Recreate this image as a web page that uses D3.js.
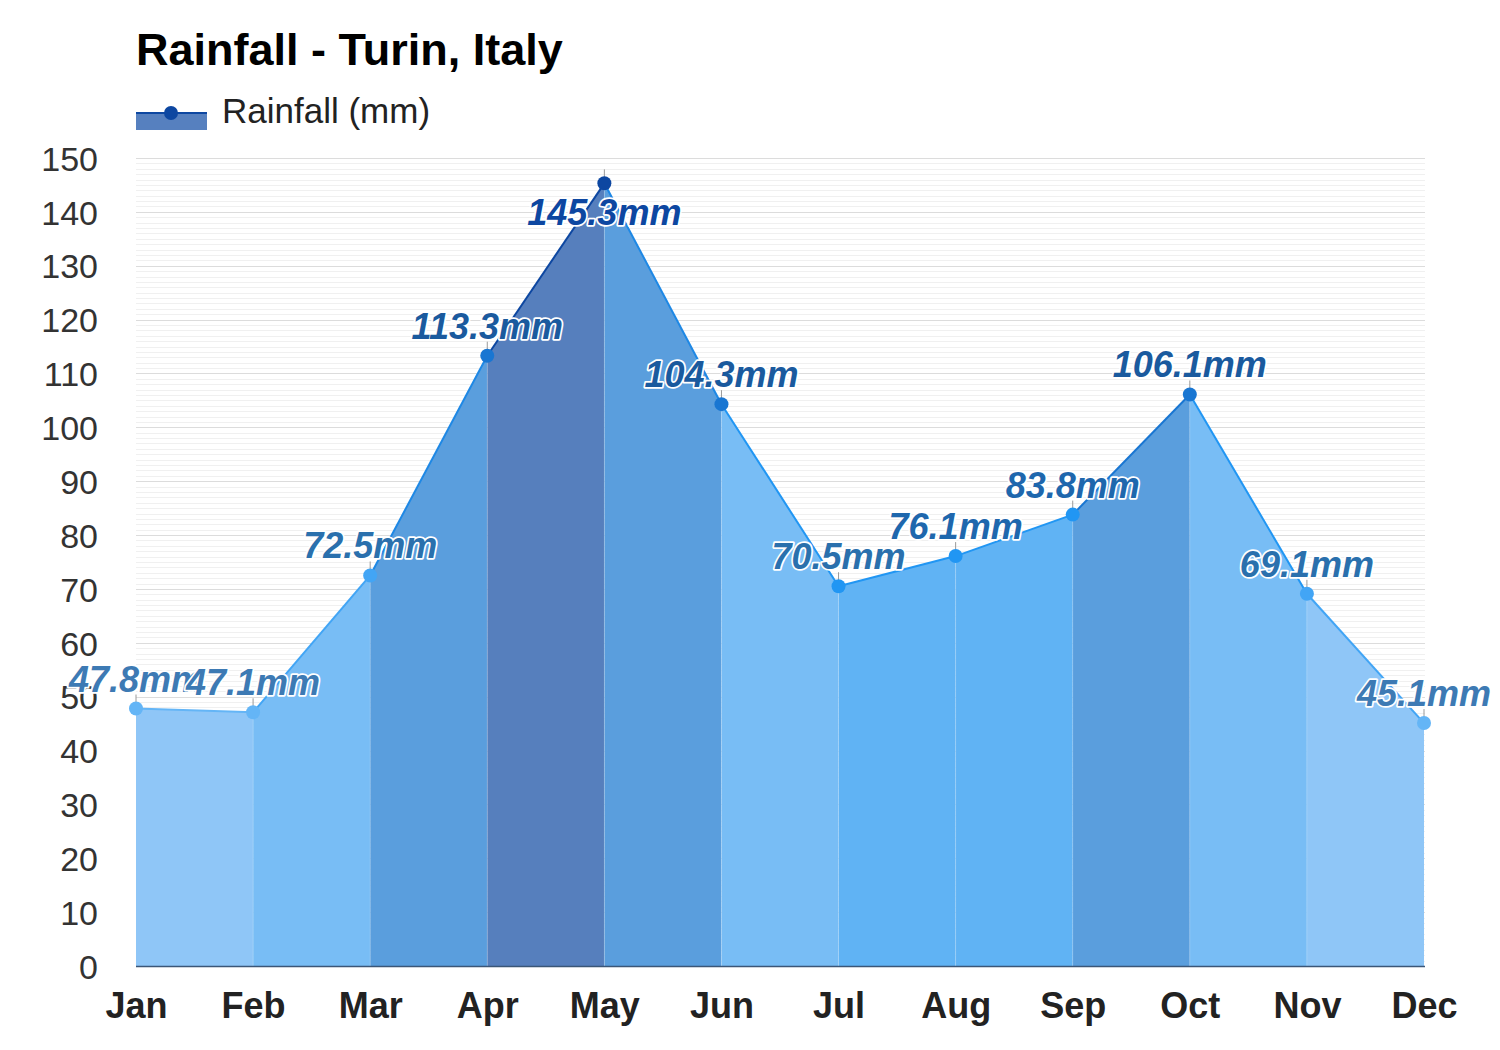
<!DOCTYPE html>
<html>
<head>
<meta charset="utf-8">
<script src="https://cdn.jsdelivr.net/npm/d3@7"></script>
<style>
  html, body { margin: 0; padding: 0; background: #ffffff; }
  svg { display: block; font-family: "Liberation Sans", Arial, sans-serif; }
</style>
</head>
<body>
<svg id="chart" width="1500" height="1050"></svg>
<script>
// ---- data ----
const months = ["Jan","Feb","Mar","Apr","May","Jun","Jul","Aug","Sep","Oct","Nov","Dec"];
const rainfall = [47.8, 47.1, 72.5, 113.3, 145.3, 104.3, 70.5, 76.1, 83.8, 106.1, 69.1, 45.1];
const yTicks = [0,10,20,30,40,50,60,70,80,90,100,110,120,130,140,150];
const titleText = "Rainfall - Turin, Italy";
const seriesName = "Rainfall (mm)";
const unit = "mm";

// ---- styles ----
const bandColors = ["#8fc6f7","#78bdf5","#5a9edd","#567fbd","#5a9edd","#78bdf5","#60b3f4","#60b3f4","#5a9edd","#78bdf5","#8fc6f7"];
const segColors  = ["#64b5f6","#42a5f5","#1e88e5","#0d47a1","#1e88e5","#2196f3","#2196f3","#2196f3","#1976d2","#2196f3","#42a5f5"];
const pointColors = ["#64b5f6","#64b5f6","#42a5f5","#1976d2","#0d47a1","#1976d2","#2196f3","#2196f3","#2196f3","#1976d2","#42a5f5","#64b5f6"];
const labelColors = ["#3d7ab4","#3d7ab4","#2a70ad","#1a5a9e","#0d47a1","#1a5a9e","#2a70ad","#1e67ad","#1e67ad","#1a5a9e","#2a70ad","#3d7ab4"];

const svg = d3.select("#chart");
const plotLeft = 136, plotRight = 1424, plotTop = 158, plotBottom = 966;

const x = d3.scalePoint().domain(months).range([plotLeft, plotRight]);
const y = d3.scaleLinear().domain([0, 150]).range([plotBottom, plotTop]);

// gridlines: minor every 1, major every 10
const grid = svg.append("g");
grid.selectAll("line.minor").data(d3.range(1, 151).filter(v => v % 10 !== 0))
  .join("line").attr("class","minor")
  .attr("x1", plotLeft).attr("x2", plotRight + 1)
  .attr("y1", d => Math.round(y(d)) + 0.5).attr("y2", d => Math.round(y(d)) + 0.5)
  .attr("stroke", "#f0f0f0").attr("stroke-width", 1);
grid.selectAll("line.major").data(yTicks.filter(v => v > 0))
  .join("line").attr("class","major")
  .attr("x1", plotLeft).attr("x2", plotRight + 1)
  .attr("y1", d => Math.round(y(d)) + 0.5).attr("y2", d => Math.round(y(d)) + 0.5)
  .attr("stroke", "#dcdcdc").attr("stroke-width", 1);

// bands (area segments)
const segs = d3.range(months.length - 1);
const area = d3.area().x(d => x(d.m)).y0(y(0)).y1(d => y(d.v));
svg.append("g").selectAll("path").data(segs).join("path")
  .attr("d", i => area([{m: months[i], v: rainfall[i]}, {m: months[i+1], v: rainfall[i+1]}]))
  .attr("fill", i => bandColors[i]);

// band separators (faint)
svg.append("g").selectAll("line").data(months.slice(1, -1)).join("line")
  .attr("x1", d => x(d)).attr("x2", d => x(d))
  .attr("y1", (d, i) => y(rainfall[i+1])).attr("y2", y(0))
  .attr("stroke", "rgba(255,255,255,0.18)").attr("stroke-width", 1);

// top line segments
const line = d3.line().x(d => x(d.m)).y(d => y(d.v));
svg.append("g").selectAll("path").data(segs).join("path")
  .attr("d", i => line([{m: months[i], v: rainfall[i]}, {m: months[i+1], v: rainfall[i+1]}]))
  .attr("fill", "none").attr("stroke", i => segColors[i]).attr("stroke-width", 2);

// baseline axis
svg.append("line").attr("x1", plotLeft).attr("x2", plotRight + 1)
  .attr("y1", y(0) + 0.5).attr("y2", y(0) + 0.5)
  .attr("stroke", "#3b5677").attr("stroke-width", 1.5);

// y axis labels
const yAxis = d3.axisLeft(y).tickValues(yTicks).tickSize(0).tickPadding(0);
const yg = svg.append("g").attr("transform", `translate(${98},0)`).call(yAxis);
yg.select(".domain").remove();
yg.selectAll("text").attr("font-size", 34).attr("fill", "#333")
  .attr("font-family", "Liberation Sans, Arial, sans-serif").attr("dy", "0.36em");

// x axis labels
const xAxis = d3.axisBottom(x).tickSize(0).tickPadding(0);
const xg = svg.append("g").attr("transform", `translate(0,${992})`).call(xAxis);
xg.select(".domain").remove();
xg.selectAll("text").attr("font-size", 36).attr("font-weight", "bold").attr("fill", "#222")
  .attr("font-family", "Liberation Sans, Arial, sans-serif").attr("dy", "0.71em");

// label tick lines
const pts = svg.append("g");
pts.selectAll("line").data(rainfall).join("line")
  .attr("x1", (d, i) => x(months[i])).attr("x2", (d, i) => x(months[i]))
  .attr("y1", d => y(d)).attr("y2", d => y(d) - 14)
  .attr("stroke", "#9a9a9a").attr("stroke-width", 1);

// points
pts.selectAll("circle").data(rainfall).join("circle")
  .attr("cx", (d, i) => x(months[i])).attr("cy", d => y(d)).attr("r", 7)
  .attr("fill", (d, i) => pointColors[i]);

// value labels
svg.append("g").selectAll("text").data(rainfall).join("text")
  .attr("x", (d, i) => x(months[i]))
  .attr("y", d => {
    const cy = y(d) - 30;
    return (cy - 14 < plotTop ? y(d) + 29 : cy) + 13;
  })
  .attr("text-anchor", "middle")
  .attr("font-size", 36).attr("font-weight", "bold").attr("font-style", "italic")
  .attr("fill", (d, i) => labelColors[i])
  .attr("stroke", "#ffffff").attr("stroke-width", 3.5).attr("stroke-linejoin", "round")
  .attr("paint-order", "stroke")
  .text(d => d.toFixed(1) + unit);

// title
svg.append("text").attr("x", 136).attr("y", 65)
  .attr("font-size", 45).attr("font-weight", "bold").attr("fill", "#000")
  .text(titleText);

// legend
const lg = svg.append("g");
lg.append("rect").attr("x", 136).attr("y", 112).attr("width", 71).attr("height", 18).attr("fill", "#5680bf");
lg.append("line").attr("x1", 136).attr("x2", 207).attr("y1", 113).attr("y2", 113)
  .attr("stroke", "#0d47a1").attr("stroke-width", 2);
lg.append("circle").attr("cx", 171).attr("cy", 113).attr("r", 7).attr("fill", "#0d47a1");
lg.append("text").attr("x", 222).attr("y", 123)
  .attr("font-size", 35).attr("fill", "#222").text(seriesName);
</script>
</body>
</html>
